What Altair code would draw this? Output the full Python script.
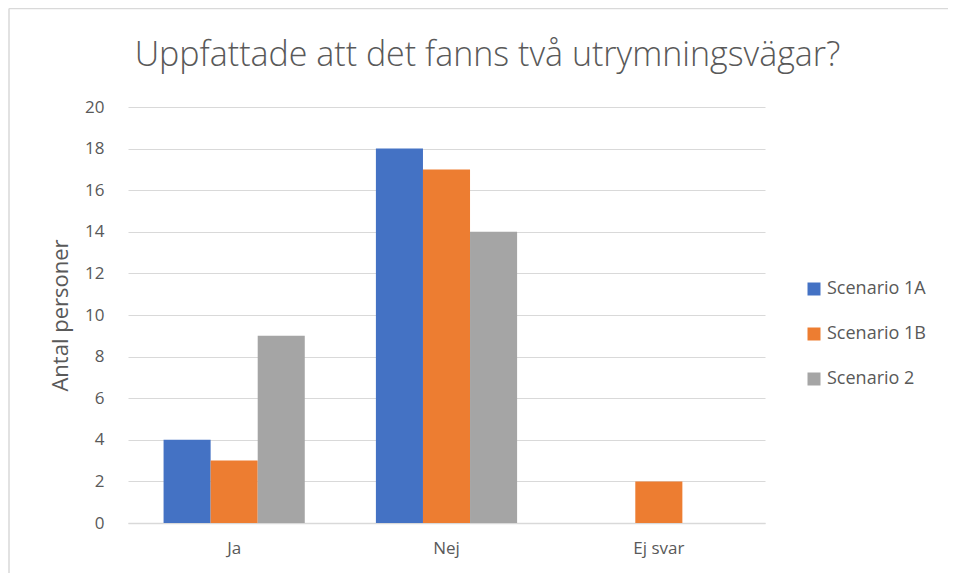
import altair as alt
import pandas as pd

categories = ["Ja", "Nej", "Ej svar"]
series = ["Scenario 1A", "Scenario 1B", "Scenario 2"]
values_1a = [4, 18, 0]
values_1b = [3, 17, 2]
values_2 = [9, 14, 0]
colors = ["#4472C4", "#ED7D31", "#A5A5A5"]

rows = []
for s, vals in zip(series, [values_1a, values_1b, values_2]):
    for c, v in zip(categories, vals):
        rows.append({"Kategori": c, "Serie": s, "Antal": v})
df = pd.DataFrame(rows)

font = "Open Sans"
grey = "#595959"

bars = alt.Chart(df).mark_bar().encode(
    x=alt.X("Kategori:N", sort=categories,
            scale=alt.Scale(paddingInner=0.335, paddingOuter=0.1675),
            axis=alt.Axis(title=None, labelAngle=0, labelFontSize=17, labelColor=grey,
                          labelFont=font, labelPadding=17, ticks=False,
                          domainColor="#D9D9D9", domainWidth=1.5)),
    xOffset=alt.XOffset("Serie:N", sort=series),
    y=alt.Y("Antal:Q", scale=alt.Scale(domain=[0, 20]),
            axis=alt.Axis(title="Antal personer", values=list(range(0, 21, 2)),
                          labelFontSize=17, labelColor=grey, labelFont=font,
                          labelPadding=24, ticks=False, domain=False,
                          gridColor="#D9D9D9", gridWidth=1.2,
                          titleFontSize=22, titleFont=font, titleColor=grey,
                          titleFontWeight="normal", titlePadding=12)),
    color=alt.Color("Serie:N", sort=series,
                    scale=alt.Scale(domain=series, range=colors),
                    legend=alt.Legend(title=None, orient="none", legendX=677, legendY=173,
                                      symbolType="square", symbolSize=169,
                                      symbolStrokeWidth=0, labelFontSize=18,
                                      labelColor=grey, labelFont=font,
                                      rowPadding=27, labelOffset=4)),
)

frame_src = pd.DataFrame({"k": [0]})
top_rule = alt.Chart(frame_src).mark_rule(color="#D9D9D9", strokeWidth=1.5, clip=False).encode(
    x=alt.value(-119), x2=alt.value(830), y=alt.value(-98.5))
left_rule = alt.Chart(frame_src).mark_rule(color="#D9D9D9", strokeWidth=1.5, clip=False).encode(
    x=alt.value(-119), y=alt.value(-98.5), y2=alt.value(480))

chart = alt.layer(bars, top_rule, left_rule).properties(
    width=637, height=416,
    title=alt.TitleParams("Uppfattade att det fanns två utrymningsvägar?",
                          fontSize=34, font=font, fontWeight=300, color=grey,
                          anchor="middle", frame="group", dx=41, dy=65, offset=0),
    padding={"left": 120, "top": 99, "right": 183, "bottom": 50},
    autosize=alt.AutoSizeParams(type="none"),
).configure_view(stroke=None)

chart.save("out.html", embed_options={"renderer": "svg", "actions": False})
